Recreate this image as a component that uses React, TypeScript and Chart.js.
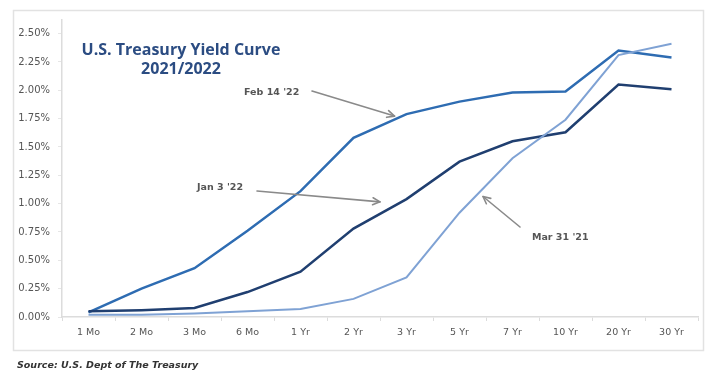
import React, { useEffect, useRef } from "react";
import { Chart, registerables } from "chart.js";

Chart.register(...registerables);

const maturities = ["1 Mo", "2 Mo", "3 Mo", "6 Mo", "1 Yr", "2 Yr", "3 Yr", "5 Yr", "7 Yr", "10 Yr", "20 Yr", "30 Yr"];

const feb14_22 = [0.04, 0.25, 0.43, 0.76, 1.11, 1.58, 1.79, 1.90, 1.98, 1.99, 2.35, 2.29];
const jan3_22 = [0.05, 0.06, 0.08, 0.22, 0.40, 0.78, 1.04, 1.37, 1.55, 1.63, 2.05, 2.01];
const mar31_21 = [0.02, 0.02, 0.03, 0.05, 0.07, 0.16, 0.35, 0.92, 1.40, 1.74, 2.31, 2.41];

const seriesNames = ["Feb 14 '22", "Jan 3 '22", "Mar 31 '21"];
const yTickValues = [0, 0.25, 0.5, 0.75, 1.0, 1.25, 1.5, 1.75, 2.0, 2.25, 2.5];

const TITLE_FONT = "'Open Sans', 'DejaVu Sans', sans-serif";
const SMALL_FONT = "'DejaVu Sans', 'Open Sans', sans-serif";

function drawArrow(ctx: CanvasRenderingContext2D, x1: number, y1: number, x2: number, y2: number) {
  const ang = Math.atan2(y2 - y1, x2 - x1);
  const head = 8;
  ctx.beginPath();
  ctx.moveTo(x1, y1);
  ctx.lineTo(x2, y2);
  ctx.stroke();
  ctx.beginPath();
  ctx.moveTo(x2 - head * Math.cos(ang - 0.45), y2 - head * Math.sin(ang - 0.45));
  ctx.lineTo(x2, y2);
  ctx.lineTo(x2 - head * Math.cos(ang + 0.45), y2 - head * Math.sin(ang + 0.45));
  ctx.stroke();
}

// Frame, heading, callouts and source note
const decorPlugin = {
  id: "decor",
  beforeDraw(chart: any) {
    const ctx = chart.ctx as CanvasRenderingContext2D;
    ctx.save();
    ctx.fillStyle = "#ffffff";
    ctx.fillRect(0, 0, chart.width, chart.height);
    ctx.strokeStyle = "#e2e2e2";
    ctx.lineWidth = 1.5;
    ctx.strokeRect(13.5, 10.5, 690, 340);
    ctx.restore();
  },
  afterDraw(chart: any) {
    const ctx = chart.ctx as CanvasRenderingContext2D;
    const x = chart.scales.x;
    const y = chart.scales.y;
    ctx.save();
    // heading
    ctx.fillStyle = "#2b4c82";
    ctx.font = `bold 16px ${TITLE_FONT}`;
    ctx.textAlign = "center";
    ctx.textBaseline = "middle";
    ctx.fillText("U.S. Treasury Yield Curve", 181, 50);
    ctx.fillText("2021/2022", 181, 69);

    // callouts
    ctx.fillStyle = "#555555";
    ctx.font = `bold 9.5px ${SMALL_FONT}`;
    ctx.textAlign = "left";
    ctx.fillText(seriesNames[0], 244, 93);
    ctx.fillText(seriesNames[1], 197, 188);
    ctx.fillText(seriesNames[2], 532, 238);

    ctx.strokeStyle = "#8a8a8a";
    ctx.lineWidth = 1.6;
    ctx.lineCap = "round";
    ctx.lineJoin = "round";
    const mid = (a: number, b: number) => (a + b) / 2;
    // Feb 14 '22 -> near the 3 Yr point
    const fx = x.getPixelForValue(6) - 12;
    const fy = y.getPixelForValue(feb14_22[6]) + 2;
    drawArrow(ctx, 312, 91, fx, fy);
    // Jan 3 '22 -> segment between 2 Yr and 3 Yr
    const jx = mid(x.getPixelForValue(5), x.getPixelForValue(6));
    const jy = mid(y.getPixelForValue(jan3_22[5]), y.getPixelForValue(jan3_22[6])) - 12;
    drawArrow(ctx, 257, 191, jx, jy);
    // Mar 31 '21 -> segment between 5 Yr and 7 Yr
    const mx = mid(x.getPixelForValue(7), x.getPixelForValue(8)) - 3;
    const my = mid(y.getPixelForValue(mar31_21[7]), y.getPixelForValue(mar31_21[8])) + 11;
    drawArrow(ctx, 520, 227, mx, my);

    // source note
    ctx.fillStyle = "#333333";
    ctx.font = `italic bold 9.5px ${SMALL_FONT}`;
    ctx.textAlign = "left";
    ctx.fillText("Source: U.S. Dept of The Treasury", 17, 366);
    ctx.restore();
  },
};

export default function App() {
  const canvasRef = useRef<HTMLCanvasElement | null>(null);

  useEffect(() => {
    if (!canvasRef.current) return;
    const chart = new Chart(canvasRef.current, {
      type: "line",
      data: {
        labels: maturities,
        datasets: [
          {
            label: seriesNames[2],
            data: mar31_21,
            borderColor: "#7fa2d4",
            borderWidth: 2,
            pointRadius: 0,
            tension: 0,
          },
          {
            label: seriesNames[1],
            data: jan3_22,
            borderColor: "#203f70",
            borderWidth: 2.5,
            pointRadius: 0,
            tension: 0,
          },
          {
            label: seriesNames[0],
            data: feb14_22,
            borderColor: "#2e6cb2",
            borderWidth: 2.5,
            pointRadius: 0,
            tension: 0,
          },
        ],
      },
      options: {
        animation: false,
        responsive: false,
        devicePixelRatio: 1,
        layout: { padding: { left: 13, right: 9, top: 20, bottom: 23 } },
        plugins: {
          legend: { display: false },
          tooltip: { enabled: false },
          title: { display: false },
        },
        scales: {
          x: {
            type: "category",
            offset: true,
            grid: {
              offset: true,
              drawOnChartArea: false,
              drawTicks: true,
              tickLength: 4,
              color: "#dcdcdc",
            },
            border: { display: true, color: "#dcdcdc", width: 1.5 },
            ticks: {
              color: "#555555",
              font: { family: SMALL_FONT, size: 9.5 },
              padding: 6,
              maxRotation: 0,
              autoSkip: false,
            },
            afterFit(scale: any) {
              scale.height = 33;
            },
          },
          y: {
            type: "linear",
            min: 0,
            max: 2.62,
            afterBuildTicks(scale: any) {
              scale.ticks = yTickValues.map((v) => ({ value: v }));
            },
            grid: {
              drawOnChartArea: false,
              drawTicks: true,
              tickLength: 4,
              color: "#e6e6e6",
            },
            border: { display: true, color: "#dcdcdc", width: 1.5 },
            ticks: {
              color: "#555555",
              font: { family: SMALL_FONT, size: 10 },
              padding: 8,
              callback: (v: any) => Number(v).toFixed(2) + "%",
            },
            afterFit(scale: any) {
              scale.width = 49;
            },
          },
        },
      },
      plugins: [decorPlugin],
    });
    return () => chart.destroy();
  }, []);

  return (
    <div style={{ position: "absolute", left: 0, top: 0, width: 707, height: 373 }}>
      <canvas ref={canvasRef} width={707} height={373} style={{ width: 707, height: 373 }} />
    </div>
  );
}
